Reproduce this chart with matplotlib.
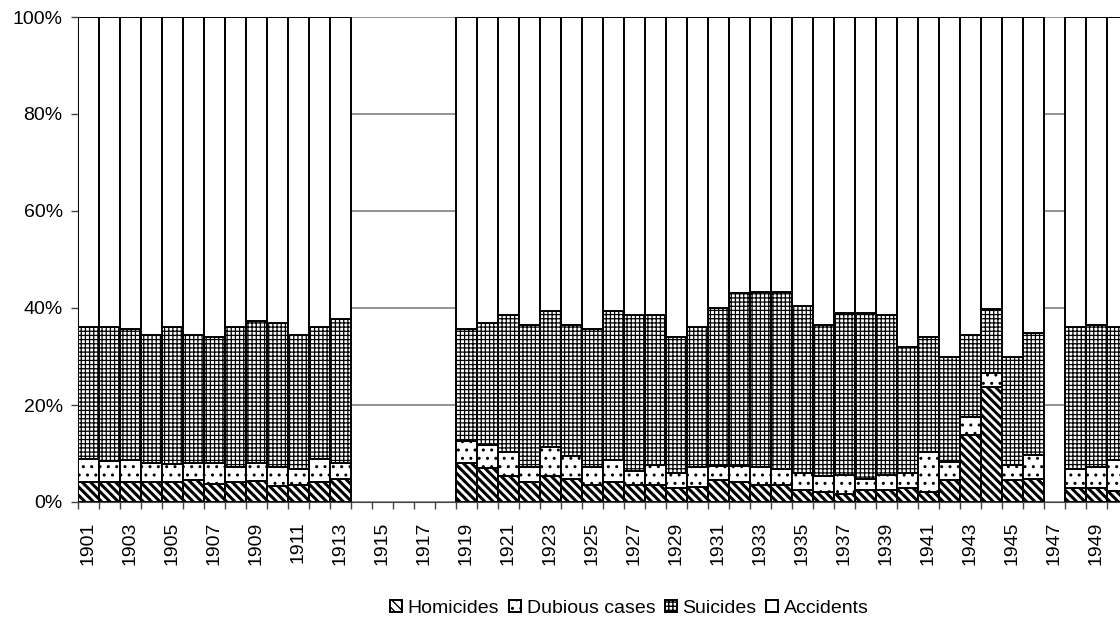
import matplotlib
matplotlib.use('Agg')
import matplotlib.pyplot as plt
import numpy as np

plt.rcParams['font.family'] = ['Liberation Sans', 'DejaVu Sans']

nan = np.nan
years = list(range(1901, 1951))

# shares in % (war years 1914-1918 and 1947 missing)
homicides = [4.1, 4.1, 4.1, 4.1, 4.1, 4.6, 3.8, 4.1, 4.4, 3.2, 3.6, 4.1, 4.8,
             nan, nan, nan, nan, nan,
             8.1, 7.0, 5.3, 4.1, 5.3, 4.8, 3.5, 4.1, 3.6, 3.5, 2.9, 3.1, 4.5, 4.1, 3.5, 3.5,
             2.4, 2.0, 1.6, 2.4, 2.4, 2.9, 2.0, 4.6, 13.9, 23.7, 4.6, 4.8,
             nan, 2.9, 2.9, 2.2]
dubious = [4.8, 4.4, 4.6, 4.0, 3.7, 3.5, 4.3, 3.1, 3.7, 4.0, 3.3, 4.7, 3.3,
           nan, nan, nan, nan, nan,
           4.4, 4.7, 5.1, 3.1, 6.1, 4.6, 3.7, 4.6, 2.7, 4.1, 3.1, 4.1, 3.0, 3.4, 3.7, 3.3,
           3.6, 3.3, 4.0, 2.4, 3.1, 3.1, 8.4, 3.6, 3.6, 2.8, 3.0, 4.9,
           nan, 3.9, 4.3, 6.5]
suicides = [27.1, 27.5, 26.9, 26.3, 28.2, 26.3, 25.9, 28.8, 29.2, 29.7, 27.5, 27.2, 29.6,
            nan, nan, nan, nan, nan,
            23.1, 25.2, 28.1, 29.3, 27.9, 27.1, 28.4, 30.6, 32.2, 30.9, 28.0, 28.8, 32.6, 35.5, 36.2, 36.6,
            34.5, 31.2, 33.3, 34.1, 33.0, 25.9, 23.6, 21.7, 16.9, 13.2, 22.3, 25.1,
            nan, 29.2, 29.3, 27.3]
accidents = [64.0, 64.0, 64.4, 65.6, 64.0, 65.6, 66.0, 64.0, 62.7, 63.1, 65.6, 64.0, 62.3,
             nan, nan, nan, nan, nan,
             64.4, 63.1, 61.5, 63.5, 60.7, 63.5, 64.4, 60.7, 61.5, 61.5, 66.0, 64.0, 59.9, 57.0, 56.6, 56.6,
             59.5, 63.5, 61.1, 61.1, 61.5, 68.1, 66.0, 70.1, 65.6, 60.3, 70.1, 65.2,
             nan, 64.0, 63.5, 64.0]

series = [('Homicides', homicides, '\\\\\\\\', 2.2),
          ('Dubious cases', dubious, '..', 1.0),
          ('Suicides', suicides, '++++', 0.9),
          ('Accidents', accidents, '', 1.0)]

fig = plt.figure(figsize=(11.2, 6.27), dpi=100)
ax = fig.add_axes([78 / 1120, 1 - 502 / 627, 1050 / 1120, 485 / 627])

bottom = np.zeros(len(years))
handles = []
for name, vals, hatch, hlw in series:
    v = np.array(vals, dtype=float)
    with plt.rc_context({'hatch.linewidth': hlw, 'hatch.color': 'black'}):
        b = ax.bar(years, v, width=1.0, bottom=bottom, color='white',
                   edgecolor='black', linewidth=1.4, hatch=hatch, label=name, zorder=3)
    handles.append(b)
    bottom = bottom + np.nan_to_num(v)

ax.set_xlim(1900.5, 1950.5)
ax.set_ylim(0, 100)
ax.set_yticks([0, 20, 40, 60, 80, 100])
ax.set_yticklabels(['0%', '20%', '40%', '60%', '80%', '100%'], fontsize=14)
ax.yaxis.grid(True, color='#808080', linewidth=1.2, zorder=0)
ax.set_axisbelow(True)

odd = [y for y in years if y % 2 == 1]
ax.set_xticks(odd)
ax.set_xticklabels([str(y) for y in odd], rotation=90, fontsize=14)
ax.tick_params(axis='x', which='major', length=0, pad=14)
ax.set_xticks(np.arange(1900.5, 1951, 1), minor=True)
ax.tick_params(axis='x', which='minor', length=5, width=1, color='#444444')
ax.tick_params(axis='y', length=5, width=1, color='#444444', pad=6)

ax.spines['top'].set_visible(False)
ax.spines['right'].set_visible(False)
ax.spines['left'].set_color('#444444')
ax.spines['bottom'].set_color('#444444')

fig.legend(handles=handles, loc='center', bbox_to_anchor=(0.562, 0.03), ncol=4,
           frameon=False, fontsize=14, handlelength=0.6, handleheight=0.6,
           handletextpad=0.3, columnspacing=0.5)

fig.savefig('out.png', dpi=100)
